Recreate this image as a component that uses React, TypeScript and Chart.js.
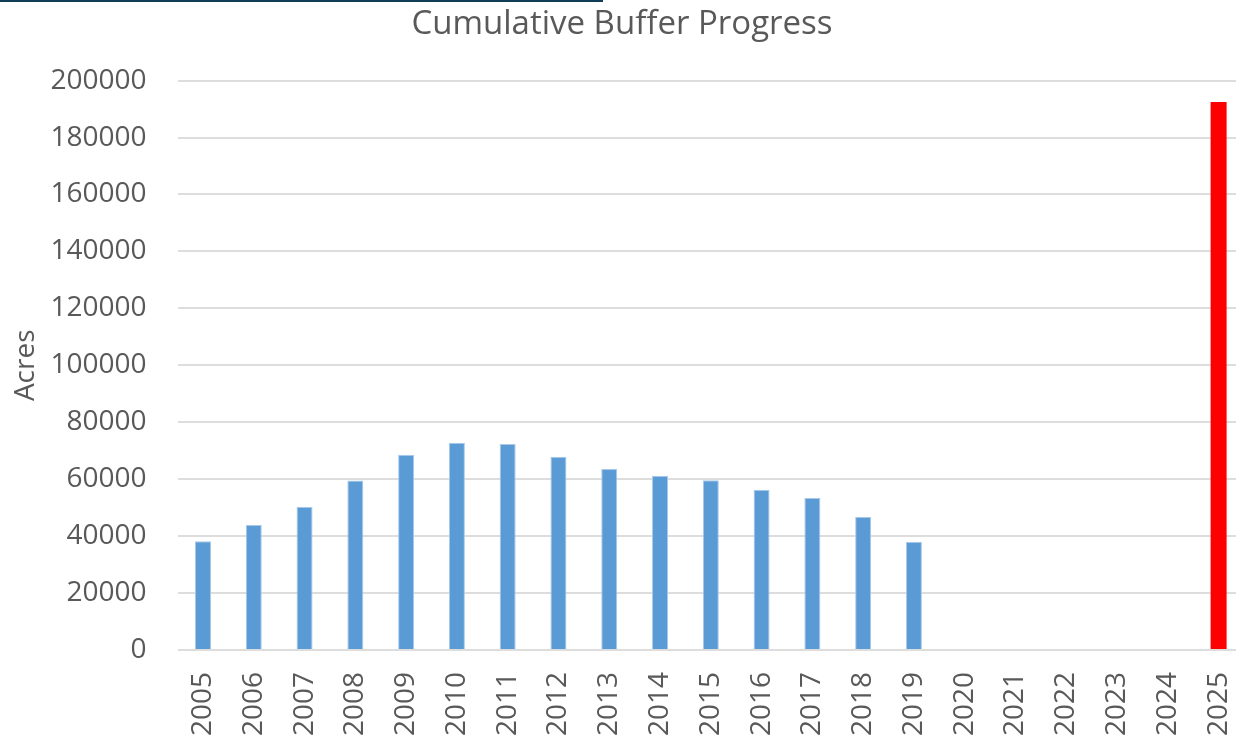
import React, { useEffect, useRef } from 'react';
import { Chart, registerables } from 'chart.js';

Chart.register(...registerables);

const chartTitle = 'Cumulative Buffer Progress';
const yAxisTitle = 'Acres';

const years = [
  '2005', '2006', '2007', '2008', '2009', '2010', '2011', '2012', '2013', '2014',
  '2015', '2016', '2017', '2018', '2019', '2020', '2021', '2022', '2023', '2024', '2025',
];

const progressAcres = [
  38200, 43900, 50300, 59500, 68600, 72800, 72400, 67900, 63600, 61200,
  59600, 56300, 53400, 46700, 38000, null, null, null, null, null, null,
];

const goalAcres = [
  null, null, null, null, null, null, null, null, null, null,
  null, null, null, null, null, null, null, null, null, null, 192500,
];

const yMin = 0;
const yMax = 200000;
const yStep = 20000;

const FONT = '"Open Sans", "DejaVu Sans", sans-serif';
const TEXT = '#595959';

export default function App() {
  const canvasRef = useRef<HTMLCanvasElement | null>(null);

  useEffect(() => {
    if (!canvasRef.current) return;
    const chart = new Chart(canvasRef.current, {
      type: 'bar',
      data: {
        labels: years,
        datasets: [
          {
            label: 'Cumulative acres',
            data: progressAcres,
            backgroundColor: '#5B9BD5',
            borderColor: '#A9C9EA',
            borderWidth: 1,
            grouped: false,
            barPercentage: 0.315,
            categoryPercentage: 1,
          },
          {
            label: 'Goal',
            data: goalAcres,
            backgroundColor: '#FF0000',
            borderWidth: 0,
            grouped: false,
            barPercentage: 0.315,
            categoryPercentage: 1,
          },
        ],
      },
      options: {
        animation: false,
        responsive: true,
        maintainAspectRatio: false,
        layout: { padding: { left: 0, right: 0, top: 0, bottom: 0 } },
        plugins: {
          legend: { display: false },
          tooltip: { enabled: false },
          title: {
            display: true,
            text: chartTitle,
            color: TEXT,
            font: { family: FONT, size: 33, weight: 'normal' },
            padding: { top: 5, bottom: 36 },
          },
        },
        scales: {
          x: {
            grid: { display: false, drawTicks: false },
            border: { display: false },
            ticks: {
              color: TEXT,
              font: { family: FONT, size: 28 },
              minRotation: 90,
              maxRotation: 90,
              autoSkip: false,
              padding: 22,
            },
            afterFit: (scale: any) => {
              scale.height = 88;
              scale.paddingLeft = 0;
              scale.paddingRight = 0;
            },
          },
          y: {
            min: yMin,
            max: yMax,
            grid: { color: '#DDDDDD', lineWidth: 2, drawTicks: false },
            border: { display: false },
            ticks: {
              stepSize: yStep,
              color: TEXT,
              font: { family: FONT, size: 28 },
              padding: 31,
              callback: (v: any) => String(v),
            },
            title: {
              display: true,
              text: yAxisTitle,
              color: TEXT,
              font: { family: FONT, size: 28 },
              padding: { top: 9, bottom: 0 },
            },
            afterFit: (scale: any) => {
              scale.width = 177.6;
            },
          },
        },
      },
    });
    return () => chart.destroy();
  }, []);

  return (
    <div
      style={{
        position: 'fixed',
        left: 0,
        top: 0,
        width: 1244,
        height: 738,
        background: '#ffffff',
      }}
    >
      <div
        style={{
          position: 'absolute',
          left: 0,
          top: 0,
          width: 603,
          height: 2,
          background: '#0F3D57',
          zIndex: 1,
        }}
      />
      <canvas ref={canvasRef} />
    </div>
  );
}
